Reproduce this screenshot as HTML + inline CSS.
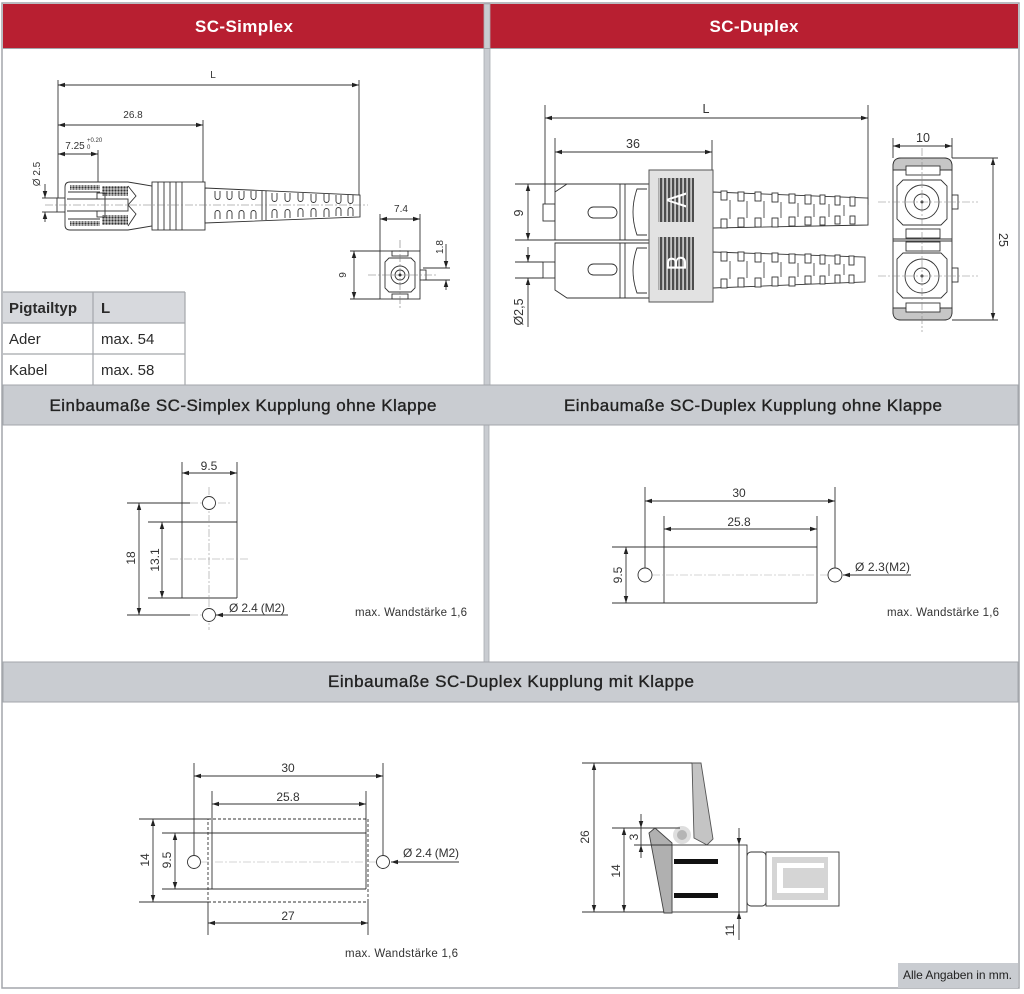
<!DOCTYPE html>
<html><head><meta charset="utf-8">
<style>
html,body{margin:0;padding:0;background:#fff;}
svg{display:block;}
text{font-family:"Liberation Sans",Arial,sans-serif;}
</style></head><body>
<svg width="1024" height="994" viewBox="0 0 1024 994" xmlns="http://www.w3.org/2000/svg">
<defs>
<marker id="a" viewBox="0 0 10 10" refX="10" refY="5" markerWidth="7" markerHeight="7" markerUnits="userSpaceOnUse" orient="auto-start-reverse"><path d="M0,1.8 L10,5 L0,8.2z" fill="#222"/></marker>
<pattern id="h" width="3" height="3" patternUnits="userSpaceOnUse"><rect width="3" height="3" fill="#cfcfcf"/><circle cx="1.5" cy="1.5" r="1.1" fill="#333"/></pattern>
<pattern id="st" width="4" height="4" patternUnits="userSpaceOnUse"><rect width="4" height="4" fill="#c4c4c4"/><rect width="2.2" height="4" fill="#4d4d4d"/></pattern>
</defs>

<!-- frame & headers -->
<rect x="0" y="0" width="1024" height="994" fill="#fff"/>
<rect x="2" y="3" width="1017" height="985" fill="#fff" stroke="#a3a6ab" stroke-width="1.5"/>
<rect x="3" y="4" width="481" height="44" fill="#b81f31"/>
<rect x="490" y="4" width="528" height="44" fill="#b81f31"/>
<rect x="484" y="4" width="6" height="381" fill="#c9ccd1" stroke="#a9acb1" stroke-width="0.8"/>
<line x1="3" y1="48.5" x2="1018" y2="48.5" stroke="#a3a6ab"/>
<rect x="484" y="425" width="5" height="237" fill="#c9ccd1" stroke="#a9acb1" stroke-width="0.8"/>
<rect x="3" y="385" width="1015" height="40" fill="#c9ccd1" stroke="#a3a6ab"/>
<rect x="3" y="662" width="1015" height="40" fill="#c9ccd1" stroke="#a3a6ab"/>

<text x="244" y="32" fill="#fff" font-size="17" font-weight="bold" text-anchor="middle" textLength="98">SC-Simplex</text>
<text x="754" y="32" fill="#fff" font-size="17" font-weight="bold" text-anchor="middle" textLength="89">SC-Duplex</text>
<text x="243" y="411" fill="#222" font-size="17" text-anchor="middle" textLength="387" stroke="#222" stroke-width="0.35">Einbaumaße SC-Simplex Kupplung ohne Klappe</text>
<text x="753" y="411" fill="#222" font-size="17" text-anchor="middle" textLength="378" stroke="#222" stroke-width="0.35">Einbaumaße SC-Duplex Kupplung ohne Klappe</text>
<text x="511" y="687" fill="#222" font-size="17" text-anchor="middle" textLength="366" stroke="#222" stroke-width="0.35">Einbaumaße SC-Duplex Kupplung mit Klappe</text>

<!-- table -->
<rect x="3" y="292" width="182" height="31" fill="#d7d9dd"/>
<g stroke="#a3a6ab" stroke-width="1.2">
<line x1="3" y1="292" x2="185" y2="292"/>
<line x1="3" y1="323" x2="185" y2="323"/>
<line x1="3" y1="354" x2="185" y2="354"/>
<line x1="93" y1="292" x2="93" y2="385"/>
<line x1="185" y1="292" x2="185" y2="385"/>
</g>
<g font-size="15" fill="#2a2a2a">
<text x="9" y="313" font-weight="bold" textLength="68">Pigtailtyp</text>
<text x="101" y="313" font-weight="bold">L</text>
<text x="9" y="344">Ader</text>
<text x="101" y="344">max. 54</text>
<text x="9" y="375">Kabel</text>
<text x="101" y="375">max. 58</text>
</g>

<!-- ============ SC-Simplex drawing ============ -->
<g stroke="#333" stroke-width="0.9" fill="none">
 <line x1="58" y1="85" x2="359" y2="85" marker-start="url(#a)" marker-end="url(#a)"/>
 <line x1="58" y1="80" x2="58" y2="200"/>
 <line x1="359" y1="80" x2="359" y2="196"/>
 <line x1="58" y1="125" x2="203" y2="125" marker-start="url(#a)" marker-end="url(#a)"/>
 <line x1="203" y1="120" x2="203" y2="182"/>
 <line x1="58" y1="154" x2="98" y2="154" marker-start="url(#a)" marker-end="url(#a)"/>
 <line x1="98" y1="150" x2="98" y2="186"/>
 <line x1="45" y1="184" x2="45" y2="198" marker-end="url(#a)"/>
 <line x1="45" y1="222" x2="45" y2="212" marker-end="url(#a)"/>
 <line x1="42" y1="198" x2="57" y2="198"/>
 <line x1="42" y1="212" x2="57" y2="212"/>

 <!-- connector -->
 <rect x="57" y="198" width="10" height="14" fill="#fff"/>
 <path d="M70,182 H128 L140,184 L152,186 V226 L140,228 L128,230 H70 Q65,230 65,225 V187 Q65,182 70,182 Z" fill="#fff"/>
 <rect x="70" y="185" width="30" height="5" fill="url(#h)" stroke="none"/>
 <rect x="70" y="221" width="30" height="5" fill="url(#h)" stroke="none"/>
 <rect x="102" y="186" width="26" height="10" fill="url(#h)" stroke="none"/>
 <rect x="102" y="215" width="26" height="10" fill="url(#h)" stroke="none"/>
 <line x1="68" y1="192" x2="100" y2="192"/>
 <line x1="68" y1="219" x2="100" y2="219"/>
 <line x1="67" y1="199" x2="100" y2="199"/>
 <line x1="67" y1="211" x2="100" y2="211"/>
 <rect x="97" y="193" width="8" height="6"/>
 <rect x="97" y="211" width="8" height="6"/>
 <path d="M128,186 L136,196 L128,205 L136,214 L128,226"/>
 <rect x="105" y="199" width="23" height="12"/>
 <rect x="152" y="182" width="53" height="48" fill="#fff"/>
 <line x1="158" y1="182" x2="158" y2="230"/>
 <line x1="164" y1="182" x2="164" y2="230"/>
 <line x1="170" y1="182" x2="170" y2="230"/>
 <line x1="176" y1="182" x2="176" y2="230"/>
 <line x1="182" y1="182" x2="182" y2="230"/>
 <polygon points="205,188 360,195 360,217 205,223" fill="#fff"/>
 <path d="M215,191 V197 a2.5,2.5 0 0 0 5,0 V191 M227,191 V197 a2.5,2.5 0 0 0 5,0 V191 M239,191 V197 a2.5,2.5 0 0 0 5,0 V191 M251,191 V197 a2.5,2.5 0 0 0 5,0 V191"/>
 <path d="M215,219 V213 a2.5,2.5 0 0 1 5,0 V219 M227,219 V213 a2.5,2.5 0 0 1 5,0 V219 M239,219 V213 a2.5,2.5 0 0 1 5,0 V219 M251,219 V213 a2.5,2.5 0 0 1 5,0 V219"/>
 <line x1="262" y1="191" x2="262" y2="220"/>
 <line x1="266" y1="191" x2="266" y2="220"/>
 <path d="M272,193 V199 a2.5,2.5 0 0 0 5,0 V193 M285,193 V199 a2.5,2.5 0 0 0 5,0 V193 M298,193 V199 a2.5,2.5 0 0 0 5,0 V193 M311,194 V200 a2.5,2.5 0 0 0 5,0 V194 M324,194 V200 a2.5,2.5 0 0 0 5,0 V194 M336,195 V201 a2.5,2.5 0 0 0 5,0 V195 M348,195 V201 a2.5,2.5 0 0 0 5,0 V195"/>
 <path d="M272,218 V212 a2.5,2.5 0 0 1 5,0 V218 M285,218 V212 a2.5,2.5 0 0 1 5,0 V218 M298,217 V211 a2.5,2.5 0 0 1 5,0 V217 M311,217 V211 a2.5,2.5 0 0 1 5,0 V217 M324,217 V211 a2.5,2.5 0 0 1 5,0 V217 M336,216 V210 a2.5,2.5 0 0 1 5,0 V216 M348,216 V210 a2.5,2.5 0 0 1 5,0 V216"/>

 <!-- side view simplex -->
 <rect x="380" y="251" width="40" height="48" fill="#fff"/>
 <rect x="392" y="251" width="16" height="5"/>
 <rect x="392" y="294" width="16" height="5"/>
 <path d="M389,258 H411 L415,262 V288 L411,292 H389 L385,288 V262 Z"/>
 <circle cx="400" cy="275" r="9"/>
 <circle cx="400" cy="275" r="5"/>
 <rect x="420" y="270" width="6" height="10"/>
 <line x1="380" y1="219" x2="420" y2="219" marker-start="url(#a)" marker-end="url(#a)"/>
 <line x1="380" y1="214" x2="380" y2="251"/>
 <line x1="420" y1="214" x2="420" y2="251"/>
 <line x1="354" y1="251" x2="354" y2="299" marker-start="url(#a)" marker-end="url(#a)"/>
 <line x1="350" y1="251" x2="380" y2="251"/>
 <line x1="350" y1="299" x2="380" y2="299"/>
 <line x1="423" y1="268" x2="450" y2="268"/>
 <line x1="423" y1="280" x2="450" y2="280"/>
 <line x1="446" y1="244" x2="446" y2="268" marker-end="url(#a)"/>
 <line x1="446" y1="290" x2="446" y2="280" marker-end="url(#a)"/>
</g>
<g stroke="#777" stroke-width="0.6" stroke-dasharray="8 2 2 2" fill="none">
 <line x1="45" y1="205" x2="368" y2="205"/>
 <line x1="368" y1="275" x2="436" y2="275"/>
 <line x1="400" y1="240" x2="400" y2="310"/>
</g>
<circle cx="400" cy="275" r="1.5" fill="#333"/>
<g font-size="10" fill="#333" text-anchor="middle">
 <text x="213" y="78">L</text>
 <text x="133" y="118">26.8</text>
 <text x="75" y="149">7.25</text>
 <text x="87" y="142" font-size="6" text-anchor="start">+0.20</text>
 <text x="87" y="149" font-size="6" text-anchor="start">0</text>
 <text transform="translate(36,174) rotate(-90)" y="4">Ø 2.5</text>
 <text x="401" y="212">7.4</text>
 <text transform="translate(342,275) rotate(-90)" y="4">9</text>
 <text transform="translate(439,247) rotate(-90)" y="4">1.8</text>
</g>

<!-- ============ SC-Duplex drawing ============ -->
<g stroke="#333" stroke-width="0.9" fill="none">
 <line x1="545" y1="118" x2="868" y2="118" marker-start="url(#a)" marker-end="url(#a)"/>
 <line x1="545" y1="105" x2="545" y2="204"/>
 <line x1="868" y1="105" x2="868" y2="205"/>
 <line x1="555" y1="152" x2="712" y2="152" marker-start="url(#a)" marker-end="url(#a)"/>
 <line x1="555" y1="138" x2="555" y2="192"/>
 <line x1="712" y1="140" x2="712" y2="172"/>
 <line x1="515" y1="184" x2="568" y2="184"/>
 <line x1="515" y1="240" x2="649" y2="240"/>
 <line x1="528" y1="184" x2="528" y2="240" marker-start="url(#a)" marker-end="url(#a)"/>
 <line x1="515" y1="262" x2="543" y2="262"/>
 <line x1="515" y1="278" x2="543" y2="278"/>
 <line x1="528" y1="247" x2="528" y2="262" marker-end="url(#a)"/>
 <line x1="528" y1="327" x2="528" y2="278" marker-end="url(#a)"/>

 <!-- connector A -->
 <rect x="543" y="204" width="12" height="17" fill="#fff"/>
 <path d="M567,184 H649 V240 H555 V192 Z" fill="#fff"/>
 <rect x="588" y="207" width="29" height="11" rx="5.5"/>
 <line x1="620" y1="184" x2="620" y2="240"/>
 <line x1="625" y1="184" x2="625" y2="240"/>
 <path d="M647,189 H637 Q629,212 637,235 H647"/>
 <!-- connector B -->
 <rect x="543" y="262" width="12" height="16" fill="#fff"/>
 <path d="M555,243 H649 V298 H567 L555,290 Z" fill="#fff"/>
 <rect x="588" y="264" width="29" height="11" rx="5.5"/>
 <line x1="620" y1="243" x2="620" y2="298"/>
 <line x1="625" y1="243" x2="625" y2="298"/>
 <path d="M647,248 H637 Q629,270 637,293 H647"/>

 <!-- boots -->
 <polygon points="713,192 868,198 868,225 713,228" fill="#fff"/>
 <polygon points="713,252 865,257 865,282 713,288" fill="#fff"/>
</g>
<g stroke="#333" stroke-width="0.9" fill="#fff">
 <rect x="721" y="191" width="6" height="9"/><rect x="721" y="219" width="6" height="9"/>
 <rect x="738" y="192" width="6" height="9"/><rect x="738" y="218" width="6" height="9"/>
 <rect x="755" y="192" width="6" height="9"/><rect x="755" y="218" width="6" height="9"/>
 <rect x="772" y="193" width="6" height="9"/><rect x="772" y="218" width="6" height="9"/>
 <rect x="789" y="194" width="6" height="9"/><rect x="789" y="217" width="6" height="9"/>
 <rect x="805" y="195" width="6" height="9"/><rect x="805" y="217" width="6" height="8"/>
 <rect x="820" y="195" width="5" height="9"/><rect x="820" y="217" width="5" height="8"/>
 <rect x="835" y="196" width="5" height="9"/><rect x="835" y="216" width="5" height="8"/>
 <rect x="850" y="197" width="5" height="9"/><rect x="850" y="216" width="5" height="8"/>
 <rect x="721" y="252" width="6" height="9"/><rect x="721" y="279" width="6" height="9"/>
 <rect x="738" y="252" width="6" height="9"/><rect x="738" y="278" width="6" height="9"/>
 <rect x="755" y="253" width="6" height="9"/><rect x="755" y="278" width="6" height="9"/>
 <rect x="772" y="253" width="6" height="9"/><rect x="772" y="277" width="6" height="9"/>
 <rect x="789" y="254" width="6" height="9"/><rect x="789" y="277" width="6" height="9"/>
 <rect x="805" y="254" width="6" height="9"/><rect x="805" y="276" width="6" height="8"/>
 <rect x="820" y="255" width="5" height="9"/><rect x="820" y="276" width="5" height="8"/>
 <rect x="835" y="255" width="5" height="9"/><rect x="835" y="275" width="5" height="8"/>
 <rect x="849" y="256" width="5" height="9"/><rect x="849" y="275" width="5" height="8"/>
</g>
<g stroke="#333" stroke-width="0.8">
 <line x1="730" y1="200" x2="730" y2="219"/><line x1="747" y1="201" x2="747" y2="218"/>
 <line x1="764" y1="201" x2="764" y2="218"/><line x1="781" y1="202" x2="781" y2="218"/>
 <line x1="798" y1="203" x2="798" y2="217"/><line x1="814" y1="204" x2="814" y2="217"/>
 <line x1="829" y1="204" x2="829" y2="217"/><line x1="844" y1="205" x2="844" y2="216"/>
 <line x1="730" y1="261" x2="730" y2="279"/><line x1="747" y1="261" x2="747" y2="278"/>
 <line x1="764" y1="262" x2="764" y2="278"/><line x1="781" y1="262" x2="781" y2="277"/>
 <line x1="798" y1="263" x2="798" y2="277"/><line x1="814" y1="263" x2="814" y2="276"/>
 <line x1="829" y1="264" x2="829" y2="276"/><line x1="844" y1="264" x2="844" y2="275"/>
</g>
<!-- housing block -->
<rect x="649" y="170" width="64" height="132" fill="#e2e2e2" stroke="#555" stroke-width="1"/>
<rect x="658" y="178" width="36" height="44" fill="url(#st)"/>
<rect x="658" y="237" width="36" height="53" fill="url(#st)"/>
<text transform="translate(676,200) rotate(-90)" y="10" font-size="28" fill="#fff" text-anchor="middle" textLength="15" lengthAdjust="spacingAndGlyphs">A</text>
<text transform="translate(676,263) rotate(-90)" y="10" font-size="28" fill="#fff" text-anchor="middle" textLength="15" lengthAdjust="spacingAndGlyphs">B</text>

<!-- duplex side view -->
<g stroke="#333" stroke-width="0.9" fill="none">
 <rect x="893" y="158" width="59" height="162" rx="8" fill="#fff"/>
 <path d="M893,170 V166 Q893,158 901,158 H944 Q952,158 952,166 V170 Z" fill="#c6c6c6"/>
 <path d="M893,308 V312 Q893,320 901,320 H944 Q952,320 952,312 V308 Z" fill="#c6c6c6"/>
 <line x1="893" y1="239" x2="952" y2="239"/>
 <line x1="893" y1="241" x2="952" y2="241"/>
 <rect x="906" y="166" width="34" height="9" fill="#fff"/>
 <rect x="906" y="229" width="34" height="9"/>
 <rect x="906" y="242" width="34" height="9"/>
 <rect x="906" y="303" width="34" height="9" fill="#fff"/>
 <path d="M903,180 H941 L947,186 V219 L941,225 H903 L897,219 V186 Z"/>
 <path d="M903,253 H941 L947,259 V292 L941,298 H903 L897,292 V259 Z"/>
 <circle cx="922" cy="202" r="17"/>
 <circle cx="922" cy="202" r="8"/>
 <circle cx="922" cy="276" r="17"/>
 <circle cx="922" cy="276" r="8"/>
 <rect x="952" y="195" width="6" height="14"/>
 <rect x="952" y="268" width="6" height="14"/>
 <line x1="893" y1="146" x2="952" y2="146" marker-start="url(#a)" marker-end="url(#a)"/>
 <line x1="893" y1="138" x2="893" y2="158"/>
 <line x1="952" y1="138" x2="952" y2="158"/>
 <line x1="993" y1="158" x2="993" y2="320" marker-start="url(#a)" marker-end="url(#a)"/>
 <line x1="952" y1="158" x2="998" y2="158"/>
 <line x1="952" y1="320" x2="998" y2="320"/>
</g>
<circle cx="922" cy="202" r="1.5" fill="#333"/>
<circle cx="922" cy="276" r="1.5" fill="#333"/>
<g stroke="#888" stroke-width="0.6" stroke-dasharray="8 2 2 2" fill="none">
 <line x1="878" y1="202" x2="978" y2="202"/>
 <line x1="878" y1="276" x2="978" y2="276"/>
 <line x1="922" y1="148" x2="922" y2="332"/>
</g>
<g font-size="12.5" fill="#333" text-anchor="middle">
 <text x="706" y="113">L</text>
 <text x="633" y="148">36</text>
 <text transform="translate(519,213) rotate(-90)" y="4">9</text>
 <text transform="translate(519,312) rotate(-90)" y="4">Ø2,5</text>
 <text x="923" y="142">10</text>
 <text transform="translate(1003,240) rotate(90)" y="4">25</text>
</g>

<!-- ============ Middle left ============ -->
<g stroke="#333" stroke-width="0.9" fill="none">
 <line x1="182" y1="473" x2="237" y2="473" marker-start="url(#a)" marker-end="url(#a)"/>
 <line x1="182" y1="462" x2="182" y2="598"/>
 <line x1="237" y1="462" x2="237" y2="598"/>
 <line x1="148" y1="522" x2="237" y2="522"/>
 <line x1="148" y1="598" x2="237" y2="598"/>
 <line x1="127" y1="503" x2="190" y2="503"/>
 <line x1="127" y1="615" x2="190" y2="615"/>
 <line x1="139" y1="503" x2="139" y2="615" marker-start="url(#a)" marker-end="url(#a)"/>
 <line x1="162" y1="522" x2="162" y2="598" marker-start="url(#a)" marker-end="url(#a)"/>
 <line x1="288" y1="615" x2="216" y2="615" marker-end="url(#a)"/>
</g>
<g stroke="#999" stroke-width="0.6" stroke-dasharray="8 2 2 2" fill="none">
 <line x1="209" y1="487" x2="209" y2="630"/>
 <line x1="170" y1="559" x2="250" y2="559"/>
 <line x1="190" y1="503" x2="230" y2="503"/>
 <line x1="190" y1="615" x2="216" y2="615"/>
</g>
<circle cx="209" cy="503" r="6.5" fill="#fff" stroke="#333" stroke-width="0.9"/>
<circle cx="209" cy="615" r="6.5" fill="#fff" stroke="#333" stroke-width="0.9"/>
<g font-size="12" fill="#333" text-anchor="middle">
 <text x="209" y="470">9.5</text>
 <text transform="translate(131,558) rotate(-90)" y="4">18</text>
 <text transform="translate(155,560) rotate(-90)" y="4">13.1</text>
 <text x="229" y="612" text-anchor="start" textLength="56">Ø 2.4 (M2)</text>
</g>
<text x="355" y="616" font-size="11.5" fill="#333" textLength="112">max. Wandstärke 1,6</text>

<!-- ============ Middle right ============ -->
<g stroke="#333" stroke-width="0.9" fill="none">
 <line x1="645" y1="501" x2="835" y2="501" marker-start="url(#a)" marker-end="url(#a)"/>
 <line x1="645" y1="487" x2="645" y2="568"/>
 <line x1="835" y1="487" x2="835" y2="568"/>
 <line x1="664" y1="529" x2="817" y2="529" marker-start="url(#a)" marker-end="url(#a)"/>
 <line x1="664" y1="516" x2="664" y2="603"/>
 <line x1="817" y1="516" x2="817" y2="603"/>
 <line x1="612" y1="547" x2="817" y2="547"/>
 <line x1="612" y1="603" x2="817" y2="603"/>
 <line x1="626" y1="547" x2="626" y2="603" marker-start="url(#a)" marker-end="url(#a)"/>
 <line x1="911" y1="575" x2="843" y2="575" marker-end="url(#a)"/>
</g>
<line x1="652" y1="575" x2="828" y2="575" stroke="#aaa" stroke-width="0.6" stroke-dasharray="8 2 2 2"/>
<circle cx="645" cy="575" r="7" fill="#fff" stroke="#333" stroke-width="0.9"/>
<circle cx="835" cy="575" r="7" fill="#fff" stroke="#333" stroke-width="0.9"/>
<g font-size="12" fill="#333" text-anchor="middle">
 <text x="739" y="497">30</text>
 <text x="739" y="526">25.8</text>
 <text transform="translate(618,575) rotate(-90)" y="4">9.5</text>
 <text x="855" y="571" text-anchor="start" textLength="55">Ø 2.3(M2)</text>
</g>
<text x="887" y="616" font-size="11.5" fill="#333" textLength="112">max. Wandstärke 1,6</text>

<!-- ============ Bottom left ============ -->
<g stroke="#333" stroke-width="0.9" fill="none">
 <line x1="194" y1="776" x2="383" y2="776" marker-start="url(#a)" marker-end="url(#a)"/>
 <line x1="194" y1="763" x2="194" y2="855"/>
 <line x1="383" y1="763" x2="383" y2="855"/>
 <line x1="212" y1="804" x2="366" y2="804" marker-start="url(#a)" marker-end="url(#a)"/>
 <line x1="212" y1="791" x2="212" y2="889"/>
 <line x1="366" y1="791" x2="366" y2="889"/>
 <line x1="162" y1="833" x2="366" y2="833"/>
 <line x1="162" y1="889" x2="366" y2="889"/>
 <line x1="139" y1="819" x2="208" y2="819"/>
 <line x1="139" y1="902" x2="208" y2="902"/>
 <line x1="153" y1="819" x2="153" y2="902" marker-start="url(#a)" marker-end="url(#a)"/>
 <line x1="175" y1="833" x2="175" y2="889" marker-start="url(#a)" marker-end="url(#a)"/>
 <line x1="208" y1="902" x2="208" y2="935"/>
 <line x1="368" y1="902" x2="368" y2="935"/>
 <line x1="208" y1="923" x2="368" y2="923" marker-start="url(#a)" marker-end="url(#a)"/>
 <line x1="459" y1="862" x2="391" y2="862" marker-end="url(#a)"/>
 <rect x="208" y="819" width="160" height="83" stroke-dasharray="3 2"/>
</g>
<line x1="201" y1="862" x2="376" y2="862" stroke="#aaa" stroke-width="0.6" stroke-dasharray="8 2 2 2"/>
<circle cx="194" cy="862" r="6.5" fill="#fff" stroke="#333" stroke-width="0.9"/>
<circle cx="383" cy="862" r="6.5" fill="#fff" stroke="#333" stroke-width="0.9"/>
<g font-size="12" fill="#333" text-anchor="middle">
 <text x="288" y="772">30</text>
 <text x="288" y="801">25.8</text>
 <text x="288" y="920">27</text>
 <text transform="translate(145,860) rotate(-90)" y="4">14</text>
 <text transform="translate(167,860) rotate(-90)" y="4">9.5</text>
 <text x="403" y="857" text-anchor="start" textLength="56">Ø 2.4 (M2)</text>
</g>
<text x="345" y="957" font-size="11.5" fill="#333" textLength="113">max. Wandstärke 1,6</text>

<!-- ============ Bottom right ============ -->
<polygon points="692,763 701,763 713,839 707,845 694,838" fill="#c4c4c4" stroke="#555" stroke-width="0.9"/>
<circle cx="682" cy="835" r="9" fill="#dedede"/>
<circle cx="682" cy="835" r="5" fill="#b5b5b5"/>
<rect x="672" y="845" width="75" height="67" fill="#fff" stroke="#333" stroke-width="0.9"/>
<polygon points="649,833 655,828 672,843 672,913 664,913" fill="#b0b0b0" stroke="#444" stroke-width="0.9"/>
<rect x="674" y="859" width="44" height="5" fill="#111"/>
<rect x="674" y="893" width="44" height="5" fill="#111"/>
<rect x="747" y="852" width="19" height="54" rx="4" fill="#fff" stroke="#333" stroke-width="0.9"/>
<rect x="766" y="852" width="73" height="54" fill="#fff" stroke="#333" stroke-width="0.9"/>
<rect x="772" y="857" width="56" height="43" fill="#d5d5d5"/>
<path d="M777,863 H824 V868 H783 V888 H824 V893 H777 Z" fill="#fff"/>
<g stroke="#333" stroke-width="0.9" fill="none">
 <line x1="582" y1="763" x2="692" y2="763"/>
 <line x1="582" y1="912" x2="664" y2="912"/>
 <line x1="594" y1="763" x2="594" y2="912" marker-start="url(#a)" marker-end="url(#a)"/>
 <line x1="612" y1="828" x2="680" y2="828"/>
 <line x1="624" y1="828" x2="624" y2="912" marker-start="url(#a)" marker-end="url(#a)"/>
 <line x1="634" y1="845" x2="672" y2="845"/>
 <line x1="641" y1="814" x2="641" y2="828" marker-end="url(#a)"/>
 <line x1="641" y1="858" x2="641" y2="845" marker-end="url(#a)"/>
 <line x1="641" y1="828" x2="641" y2="845"/>
 <line x1="739" y1="828" x2="739" y2="845" marker-end="url(#a)"/>
 <line x1="739" y1="940" x2="739" y2="912" marker-end="url(#a)"/>
 <line x1="739" y1="845" x2="739" y2="912"/>
</g>
<g font-size="12" fill="#333" text-anchor="middle">
 <text transform="translate(585,837) rotate(-90)" y="4">26</text>
 <text transform="translate(616,871) rotate(-90)" y="4">14</text>
 <text transform="translate(634,837) rotate(-90)" y="4">3</text>
 <text transform="translate(730,930) rotate(-90)" y="4">11</text>
</g>

<!-- footnote -->
<rect x="898" y="963" width="120" height="25" fill="#c9ccd1"/>
<text x="903" y="979" font-size="12" fill="#222" textLength="109">Alle Angaben in mm.</text>
</svg>
</body></html>
